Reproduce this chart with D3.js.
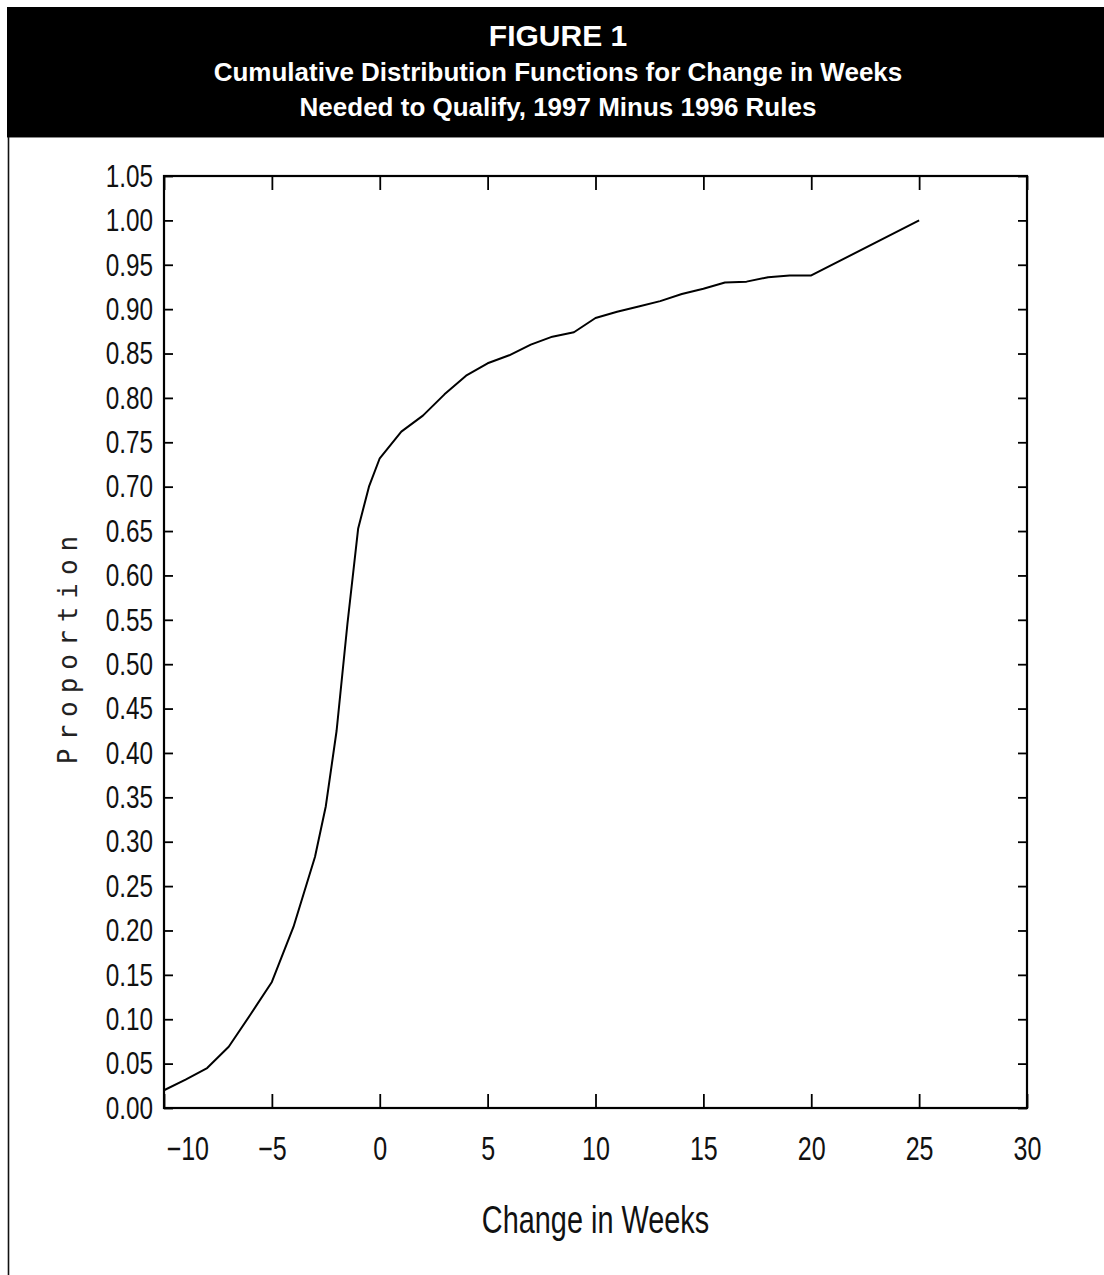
<!DOCTYPE html>
<html>
<head>
<meta charset="utf-8">
<script src="https://cdn.jsdelivr.net/npm/d3@7"></script>
<style>
  html, body { margin: 0; padding: 0; background: #fff; }
  svg { display: block; }
</style>
</head>
<body>
<script>
// ---- data ----
const titleLines = [
  "FIGURE 1",
  "Cumulative Distribution Functions for Change in Weeks",
  "Needed to Qualify, 1997 Minus 1996 Rules"
];
const weeks = [-10, -9, -8, -7, -6, -5, -4, -3, -2.5, -2, -1.5, -1, -0.5, 0,
  1, 2, 3, 4, 5, 6, 7, 8, 9, 10, 11, 12, 13, 14, 15, 16, 17, 18, 19, 20, 25];
const proportion = [0.020, 0.032, 0.045, 0.069, 0.105, 0.142, 0.204, 0.283, 0.340, 0.425, 0.545, 0.653, 0.700, 0.732,
  0.762, 0.780, 0.804, 0.825, 0.839, 0.848, 0.860, 0.869, 0.874, 0.890, 0.897, 0.903, 0.909, 0.917, 0.923, 0.930, 0.931, 0.936, 0.938, 0.938, 1.000];
const xTicks = [-10, -5, 0, 5, 10, 15, 20, 25, 30];
const yTicks = [0, 0.05, 0.10, 0.15, 0.20, 0.25, 0.30, 0.35, 0.40, 0.45, 0.50,
  0.55, 0.60, 0.65, 0.70, 0.75, 0.80, 0.85, 0.90, 0.95, 1.00, 1.05];
const xTitle = "Change in Weeks";
const yTitle = "Proportion";

// ---- layout ----
const W = 1104, H = 1275;
const plot = { left: 164, right: 1027, top: 176, bottom: 1108 };
const numFont = "'Liberation Sans', Arial, sans-serif";
const squeeze = 0.76; // horizontal compression of the condensed plot lettering

const svg = d3.select("body").append("svg").attr("width", W).attr("height", H);

// header band
svg.append("rect").attr("x", 7).attr("y", 7).attr("width", W - 7).attr("height", 130).attr("fill", "#000");
svg.append("line").attr("x1", 7).attr("x2", W).attr("y1", 137.5).attr("y2", 137.5)
  .attr("stroke", "#888").attr("stroke-width", 1);
svg.append("line").attr("x1", 8.5).attr("x2", 8.5).attr("y1", 137).attr("y2", H)
  .attr("stroke", "#111").attr("stroke-width", 1.6);

const titleY = [46, 81, 116];
const titleSize = [30, 26, 26];
svg.selectAll("text.title").data(titleLines).join("text")
  .attr("class", "title")
  .attr("x", 558)
  .attr("y", (d, i) => titleY[i])
  .attr("text-anchor", "middle")
  .attr("fill", "#fff")
  .attr("font-family", "'Liberation Sans', Arial, sans-serif")
  .attr("font-weight", "bold")
  .attr("font-size", (d, i) => titleSize[i])
  .text(d => d);

// scales
const x = d3.scaleLinear().domain([-10, 30]).range([plot.left, plot.right]);
const y = d3.scaleLinear().domain([0, 1.05]).range([plot.bottom, plot.top]);

// axes
const gBottom = svg.append("g").attr("transform", `translate(0,${plot.bottom})`)
  .call(d3.axisBottom(x).tickValues(xTicks).tickSizeInner(-14).tickSizeOuter(0).tickPadding(29)
    .tickFormat(d => (d < 0 ? "\u2212" : "") + Math.abs(d)));
const gTop = svg.append("g").attr("transform", `translate(0,${plot.top})`)
  .call(d3.axisTop(x).tickValues(xTicks).tickSizeInner(-14).tickSizeOuter(0).tickFormat(""));
const gLeft = svg.append("g").attr("transform", `translate(${plot.left},0)`)
  .call(d3.axisLeft(y).tickValues(yTicks).tickSizeInner(-9).tickSizeOuter(0).tickPadding(11)
    .tickFormat(d3.format(".2f")));
const gRight = svg.append("g").attr("transform", `translate(${plot.right},0)`)
  .call(d3.axisRight(y).tickValues(yTicks).tickSizeInner(-9).tickSizeOuter(0).tickFormat(""));

[gBottom, gTop, gLeft, gRight].forEach(g => {
  g.select(".domain").remove();
  g.selectAll(".tick line").attr("stroke", "#000").attr("stroke-width", 1.8);
  g.selectAll("text").attr("font-family", numFont).attr("fill", "#111").attr("font-weight", "normal");
});
gLeft.selectAll(".tick text").attr("font-size", 32)
  .attr("transform", `scale(${squeeze},1)`).attr("x", -11 / squeeze);
gBottom.selectAll(".tick text").attr("font-size", 33)
  .attr("transform", `scale(${squeeze},1)`);
// first x label sits to the right of its tick, as in the original
gBottom.selectAll(".tick text").filter(d => d === -10).attr("text-anchor", "start").attr("x", 2 / squeeze);

// frame
svg.append("rect")
  .attr("x", plot.left).attr("y", plot.top)
  .attr("width", plot.right - plot.left).attr("height", plot.bottom - plot.top)
  .attr("fill", "none").attr("stroke", "#000").attr("stroke-width", 2.2);

// curve
const pts = weeks.map((w, i) => [w, proportion[i]]);
svg.append("path").datum(pts)
  .attr("fill", "none").attr("stroke", "#000").attr("stroke-width", 2)
  .attr("stroke-linejoin", "round")
  .attr("d", d3.line().x(d => x(d[0])).y(d => y(d[1])));

// axis titles
const cx = (plot.left + plot.right) / 2;
svg.append("text")
  .attr("transform", `translate(${cx},1233) scale(${squeeze},1)`)
  .attr("text-anchor", "middle")
  .attr("font-family", numFont).attr("font-size", 38).attr("fill", "#111")
  .text(xTitle);
svg.append("text")
  .attr("transform", `translate(77,${(plot.top + plot.bottom) / 2 + 4}) rotate(-90)`)
  .attr("text-anchor", "middle")
  .attr("font-family", "'DejaVu Sans Mono', monospace").attr("font-size", 26)
  .attr("letter-spacing", 8).attr("fill", "#222")
  .text(yTitle);
</script>
</body>
</html>
